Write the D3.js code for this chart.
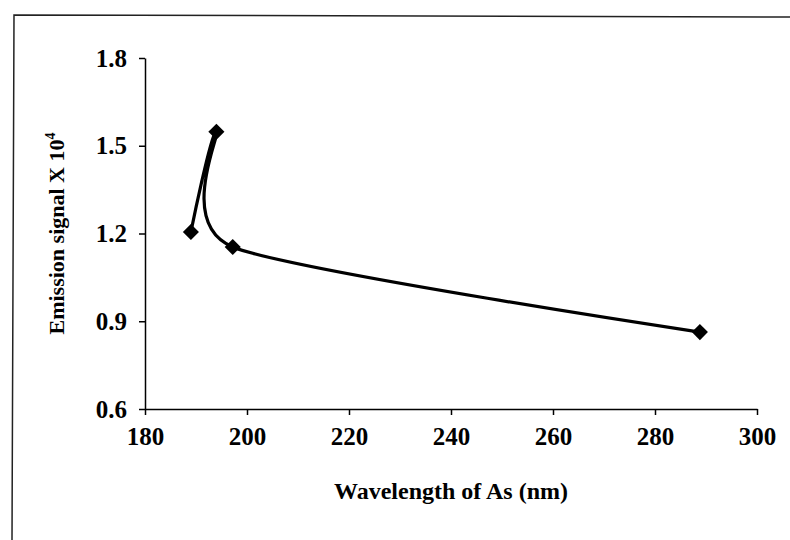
<!DOCTYPE html>
<html>
<head>
<meta charset="utf-8">
<script src="https://cdn.jsdelivr.net/npm/d3@7"></script>
<style>
  body { margin: 0; background: #fff; }
  svg { display: block; }
  text { font-family: "Liberation Serif", "Times New Roman", serif; font-weight: bold; fill: #000; }
</style>
</head>
<body>
<div id="chart"></div>
<script>
const wavelengths = [189.0, 194.0, 197.2, 288.8];
const signals = [1.205, 1.548, 1.154, 0.863];
const xTicks = [180, 200, 220, 240, 260, 280, 300];
const yTicks = [0.6, 0.9, 1.2, 1.5, 1.8];

const width = 790,
    height = 540,
    margin = { top: 58, right: 33, bottom: 131, left: 145 };

const svg = d3.select('#chart').append('svg')
    .attr('width', width)
    .attr('height', height);

// scanned frame (top and left edges only)
svg.append('path')
    .attr('d', 'M12,540 L14,15 L790,17')
    .attr('fill', 'none')
    .attr('stroke', '#222')
    .attr('stroke-width', 1.5);

const x = d3.scaleLinear().domain([180, 300])
    .range([margin.left, width - margin.right]);
const y = d3.scaleLinear().domain([0.6, 1.8])
    .range([height - margin.bottom, margin.top]);

const xAxis = svg.append('g')
    .attr('transform', `translate(0,${height - margin.bottom})`)
    .call(d3.axisBottom(x).tickValues(xTicks).tickSize(6).tickSizeOuter(0).tickPadding(12));

const yAxis = svg.append('g')
    .attr('transform', `translate(${margin.left},0)`)
    .call(d3.axisLeft(y).tickValues(yTicks).tickSize(6).tickSizeOuter(0).tickPadding(12)
        .tickFormat(d3.format('.1f')));

[xAxis, yAxis].forEach(g => {
    g.select('.domain').attr('stroke', '#000').attr('stroke-width', 1.5);
    g.selectAll('.tick line').attr('stroke', '#000').attr('stroke-width', 1.5);
    g.selectAll('.tick text')
        .style('font-family', '"Liberation Serif", "Times New Roman", serif')
        .style('font-weight', 'bold')
        .style('font-size', '25px')
        .attr('fill', '#000');
});

const pts = wavelengths.map((w, i) => [w, signals[i]]);

svg.append('path')
    .datum(pts)
    .attr('fill', 'none')
    .attr('stroke', '#000')
    .attr('stroke-width', 3.2)
    .attr('stroke-linejoin', 'round')
    .attr('d', d3.line()
        .x(d => x(d[0]))
        .y(d => y(d[1]))
        .curve(d3.curveCardinal.tension(0.3)));

svg.append('g')
    .selectAll('path')
    .data(pts)
    .enter().append('path')
    .attr('d', d3.symbol().type(d3.symbolSquare).size(130))
    .attr('transform', d => `translate(${x(d[0])},${y(d[1])}) rotate(45)`)
    .attr('fill', '#000');

svg.append('text')
    .attr('x', (margin.left + width - margin.right) / 2)
    .attr('y', 499)
    .attr('text-anchor', 'middle')
    .style('font-size', '24px')
    .text('Wavelength of As (nm)');

const yl = svg.append('text')
    .attr('transform', `translate(64,${(margin.top + height - margin.bottom) / 2}) rotate(-90)`)
    .attr('text-anchor', 'middle')
    .style('font-size', '22px');
yl.append('tspan').text('Emission signal X 10');
yl.append('tspan').attr('dy', -9).style('font-size', '14px').text('4');
</script>
</body>
</html>
